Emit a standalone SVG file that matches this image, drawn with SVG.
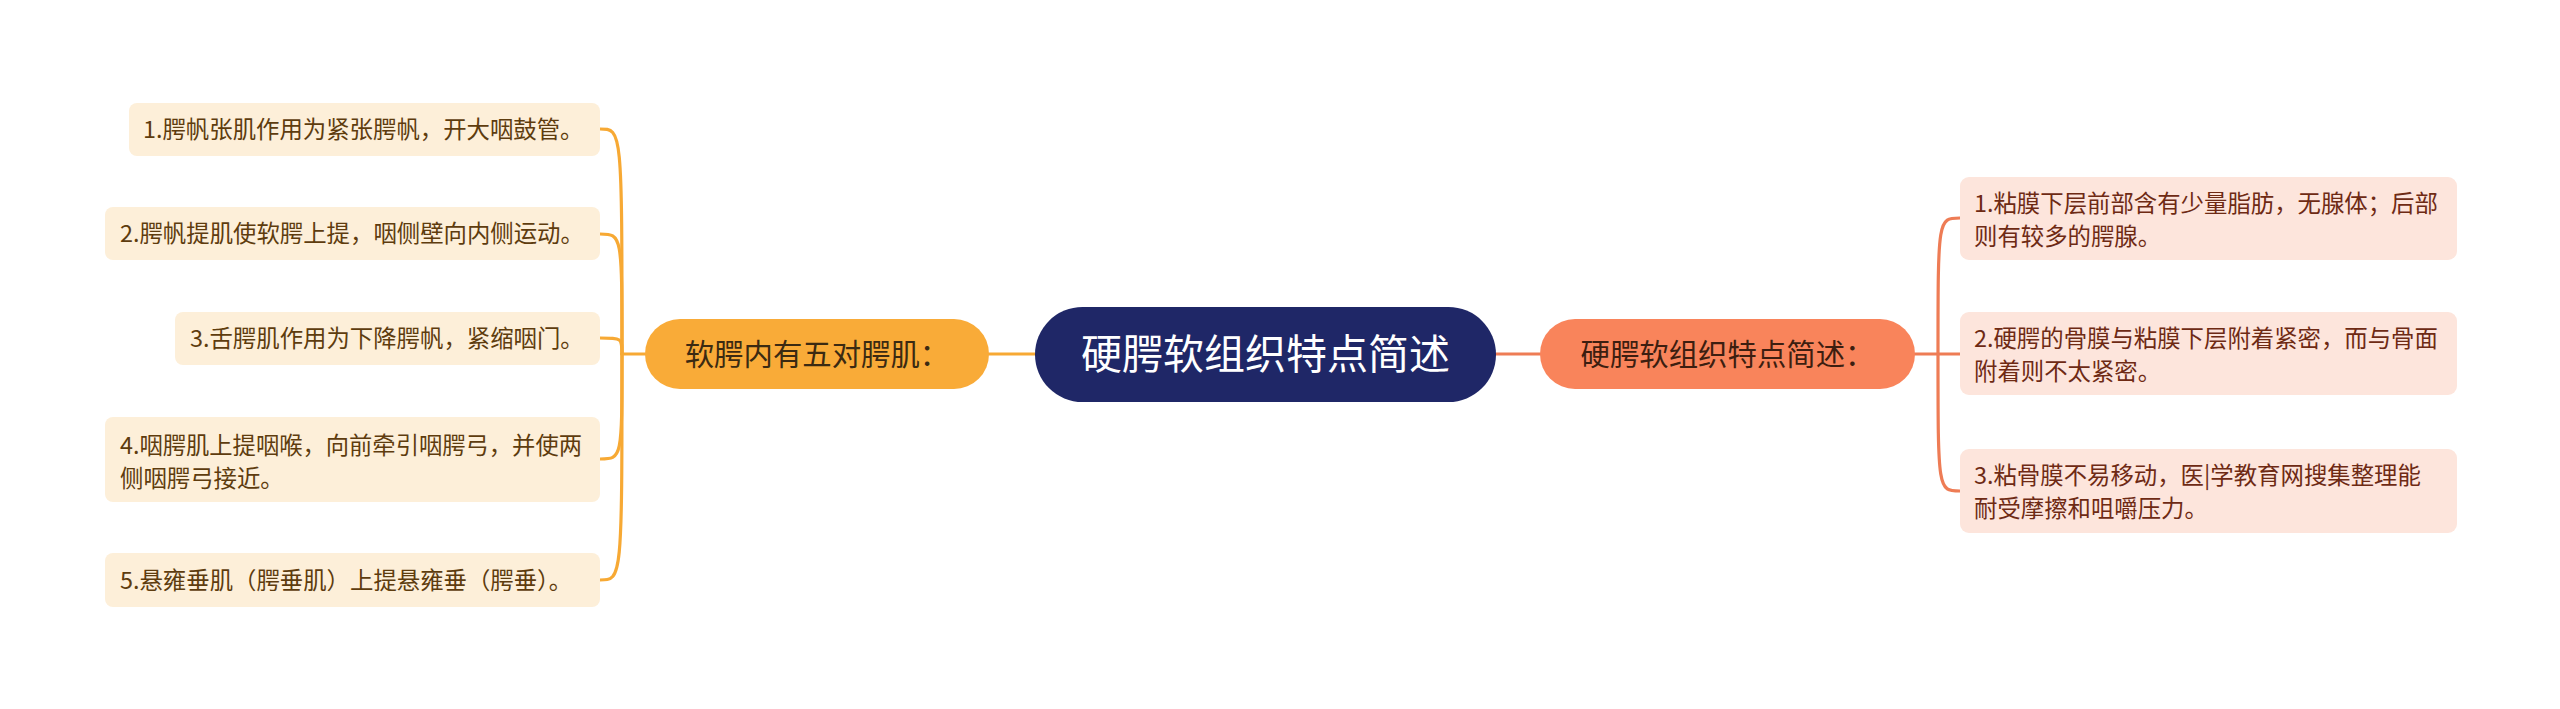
<svg xmlns="http://www.w3.org/2000/svg" width="2560" height="709" viewBox="0 0 2560 709">
<style>
text{font-family:"Noto Sans CJK SC","Noto Sans",sans-serif;}
.center{fill:#1f2767;}
.ctext{fill:#ffffff;font-size:41px;text-anchor:middle;}
.lmain{fill:#f9ab38;}
.rmain{fill:#f9845b;}
.mtext{font-size:29.4px;text-anchor:middle;}
.lleaf{fill:#fdefd9;}
.rleaf{fill:#fde5dc;}
.ltext{fill:#5e3c0e;font-size:23.4px;}
.rtext{fill:#6e2a14;font-size:23.4px;}
.lc{fill:none;stroke:#f7a934;stroke-width:3.2;stroke-linecap:round;}
.rc{fill:none;stroke:#ee7c55;stroke-width:3.2;stroke-linecap:round;}
</style>
<rect width="2560" height="709" fill="#ffffff"/>
<g id="connectors">
<path class="lc" d="M989 354 H1035"/>
<path class="rc" d="M1496 354 H1540"/>
<path class="lc" d="M645 354 H622"/>
<path class="lc" d="M622 354 C622 129 622 129 600 129"/>
<path class="lc" d="M622 354 C622 234 622 234 600 234"/>
<path class="lc" d="M622 354 C622 338 622 338 600 338"/>
<path class="lc" d="M622 354 C622 459 622 459 600 459"/>
<path class="lc" d="M622 354 C622 580 622 580 600 580"/>
<path class="rc" d="M1915 354 H1960"/>
<path class="rc" d="M1938 354 C1938 218 1938 218 1960 218"/>
<path class="rc" d="M1938 354 C1938 491 1938 491 1960 491"/>
</g>
<g id="root">
<rect class="center" x="1035" y="307" width="461" height="95" rx="47.5"/>
<text class="ctext" x="1265.5" y="369">硬腭软组织特点简述</text>
</g>
<g id="left-main">
<rect class="lmain" x="645" y="319" width="344" height="70" rx="35"/>
<text class="mtext" x="817" y="365" fill="#3b2a12">软腭内有五对腭肌：</text>
</g>
<g id="right-main">
<rect class="rmain" x="1540" y="319" width="375" height="70" rx="35"/>
<text class="mtext" x="1727.5" y="365" fill="#3d1e10">硬腭软组织特点简述：</text>
</g>
<g id="left-leaf-1">
<rect class="lleaf" x="129" y="103" width="471" height="53" rx="8"/>
<text class="ltext" x="143" y="138">1.腭帆张肌作用为紧张腭帆，开大咽鼓管。</text>
</g>
<g id="left-leaf-2">
<rect class="lleaf" x="105" y="207" width="495" height="53" rx="8"/>
<text class="ltext" x="120" y="242">2.腭帆提肌使软腭上提，咽侧壁向内侧运动。</text>
</g>
<g id="left-leaf-3">
<rect class="lleaf" x="175" y="312" width="425" height="53" rx="8"/>
<text class="ltext" x="190" y="347">3.舌腭肌作用为下降腭帆，紧缩咽门。</text>
</g>
<g id="left-leaf-4">
<rect class="lleaf" x="105" y="417" width="495" height="85" rx="8"/>
<text class="ltext" x="120" y="454" textLength="462" lengthAdjust="spacingAndGlyphs">4.咽腭肌上提咽喉，向前牵引咽腭弓，并使两</text>
<text class="ltext" x="120" y="487">侧咽腭弓接近。</text>
</g>
<g id="left-leaf-5">
<rect class="lleaf" x="105" y="553" width="495" height="54" rx="8"/>
<text class="ltext" x="120" y="589">5.悬雍垂肌（腭垂肌）上提悬雍垂（腭垂）。</text>
</g>
<g id="right-leaf-1">
<rect class="rleaf" x="1960" y="177" width="497" height="83" rx="9"/>
<text class="rtext" x="1974" y="212">1.粘膜下层前部含有少量脂肪，无腺体；后部</text>
<text class="rtext" x="1974" y="245">则有较多的腭腺。</text>
</g>
<g id="right-leaf-2">
<rect class="rleaf" x="1960" y="312" width="497" height="83" rx="9"/>
<text class="rtext" x="1974" y="347">2.硬腭的骨膜与粘膜下层附着紧密，而与骨面</text>
<text class="rtext" x="1974" y="380">附着则不太紧密。</text>
</g>
<g id="right-leaf-3">
<rect class="rleaf" x="1960" y="449" width="497" height="84" rx="9"/>
<text class="rtext" x="1974" y="484">3.粘骨膜不易移动，医|学教育网搜集整理能</text>
<text class="rtext" x="1974" y="517">耐受摩擦和咀嚼压力。</text>
</g>
</svg>
